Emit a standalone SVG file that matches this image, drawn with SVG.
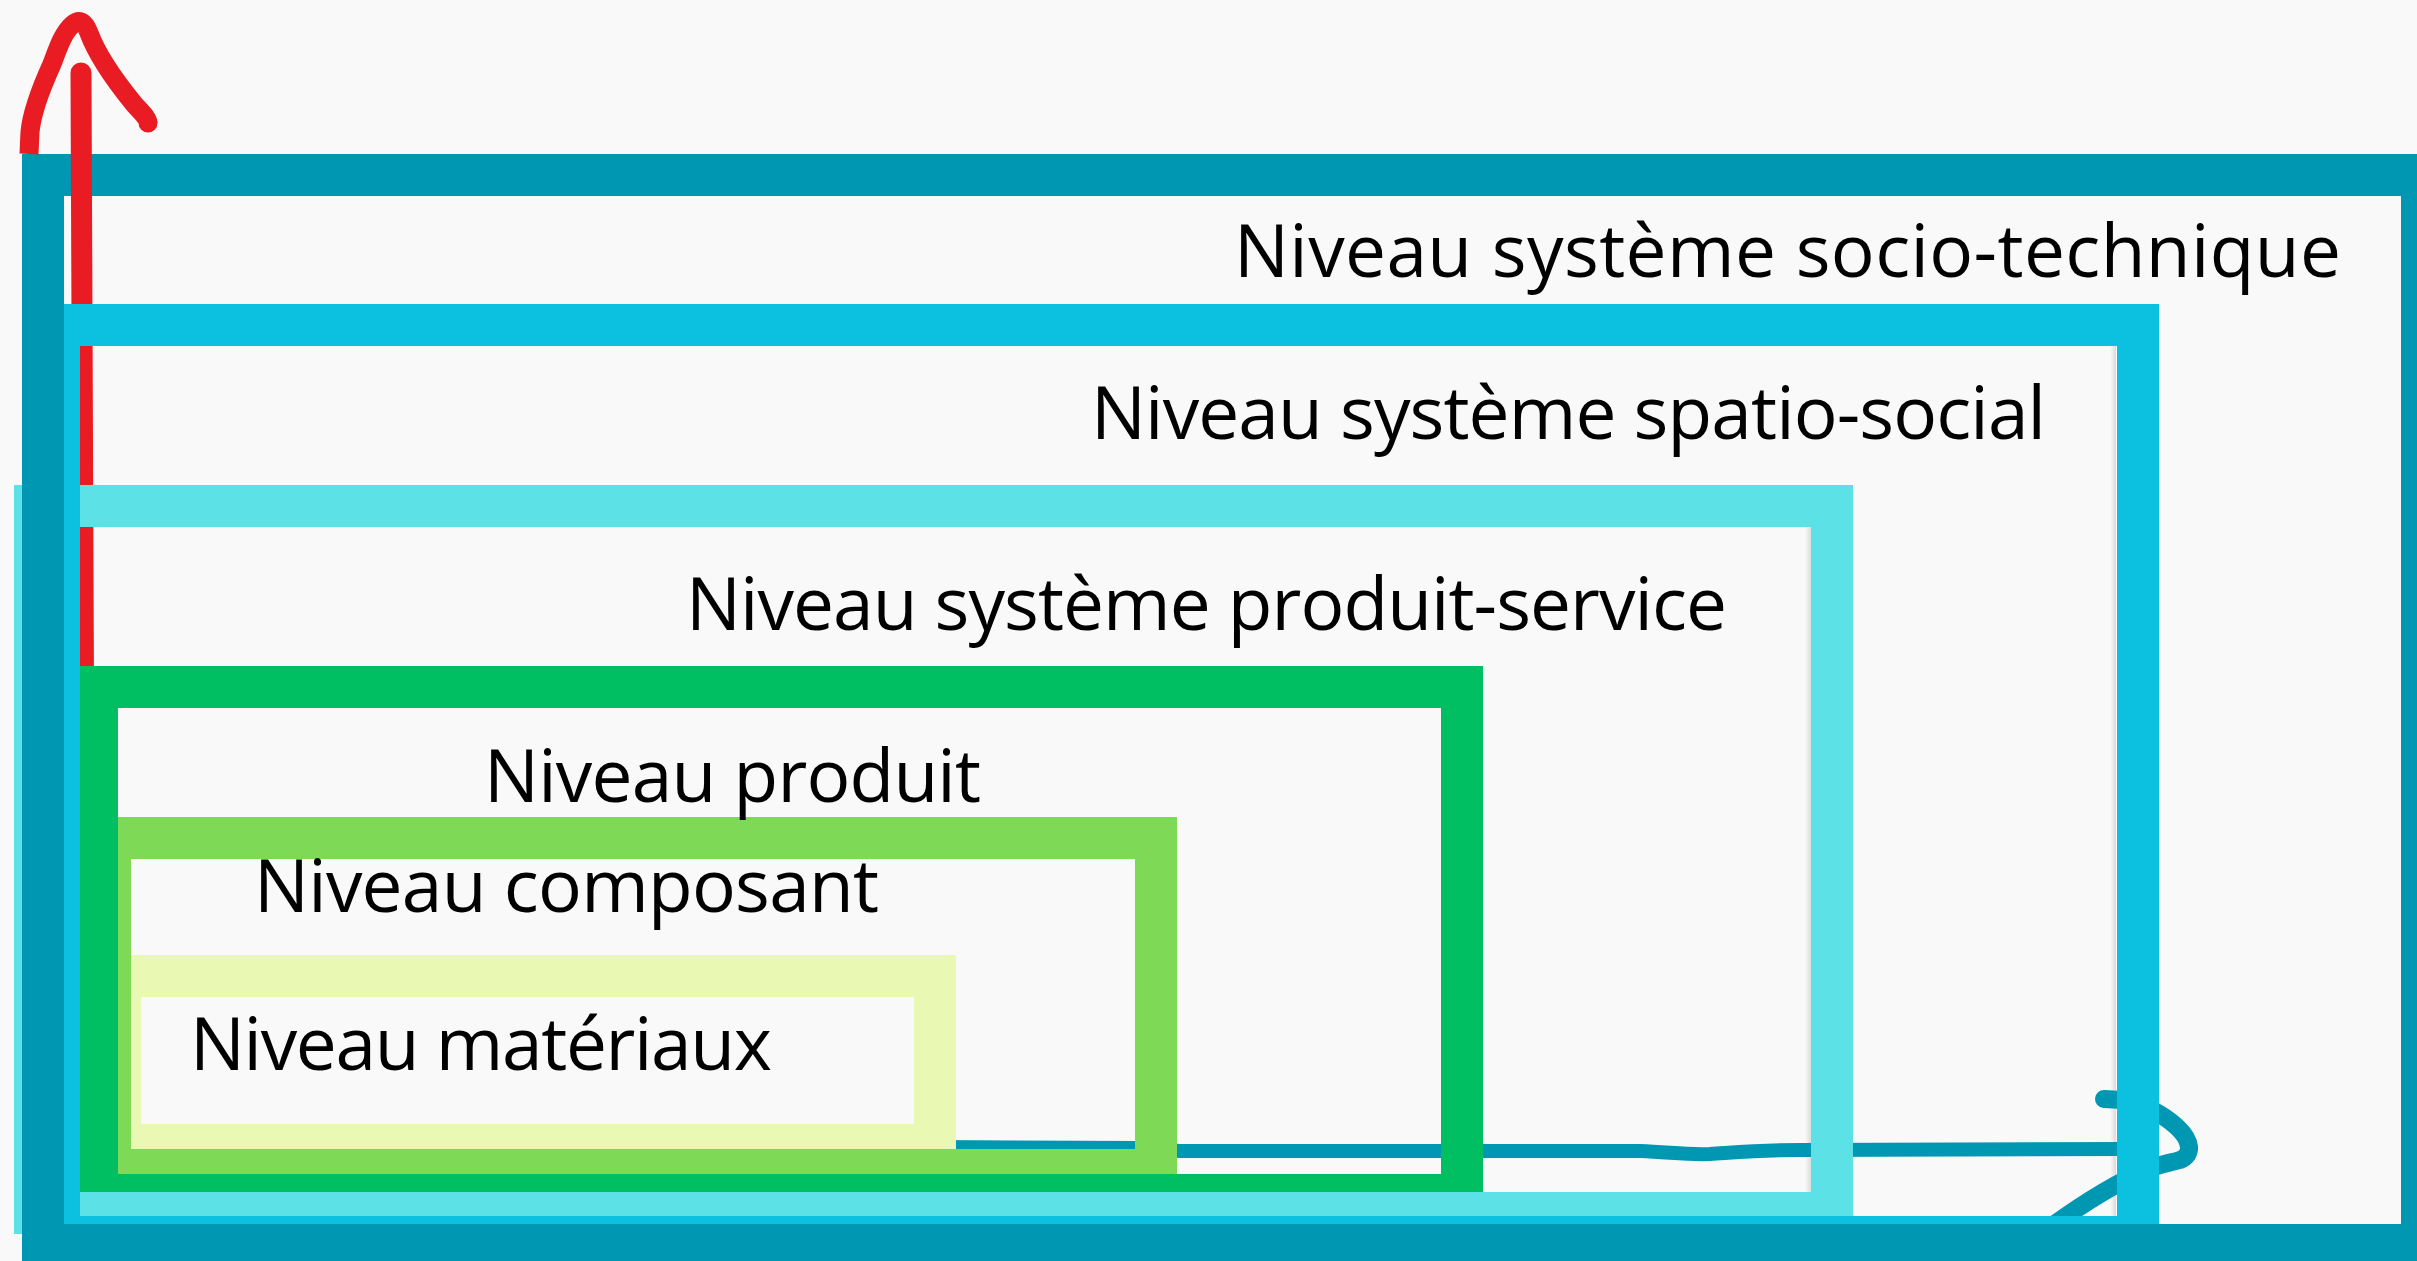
<svg xmlns="http://www.w3.org/2000/svg" width="2417" height="1261" viewBox="0 0 2417 1261">
  <style>
    .band { fill: none; stroke-width: 42; }
    .label { font-family: "Open Sans", "Noto Sans", "Liberation Sans", sans-serif; font-size: 73px; fill: #000; }
    .pen { fill: none; stroke-linejoin: round; }
  </style>
  <defs>
    <!-- frame outlines, stroke colour comes from the referencing <use> -->
    <rect id="f-materiaux" x="120" y="976" width="815" height="169"/>
    <rect id="f-composant" x="110" y="838" width="1046" height="332"/>
    <rect id="f-produit" x="97" y="687" width="1365" height="508"/>
    <rect id="f-pss" x="35" y="506" width="1797" height="707"/>
    <rect id="f-spatio" x="59" y="325" width="2079" height="912"/>
    <rect id="f-socio" x="43" y="175" width="2379" height="1070"/>

    <linearGradient id="edge-shadow" x1="0" y1="0" x2="1" y2="0">
      <stop offset="0" stop-color="#000" stop-opacity="0"/>
      <stop offset="1" stop-color="#000" stop-opacity="0.12"/>
    </linearGradient>

    <!-- hand-drawn strokes pass underneath the inner frames -->
    <mask id="under-frames" maskUnits="userSpaceOnUse" x="0" y="0" width="2417" height="1261">
      <rect width="2417" height="1261" fill="#fff"/>
      <g class="band" stroke="#000">
        <use href="#f-materiaux" class="band"/>
        <use href="#f-composant" class="band"/>
        <use href="#f-produit" class="band"/>
        <use href="#f-pss" class="band"/>
        <use href="#f-spatio" class="band"/>
      </g>
    </mask>
  </defs>

  <rect width="2417" height="1261" fill="#f9f9f9"/>

  <g id="niveau-materiaux">
    <use href="#f-materiaux" class="band" stroke="#e9f9b3"/>
    <text class="label" x="190" y="1070" textLength="582" lengthAdjust="spacing">Niveau matériaux</text>
  </g>

  <g id="niveau-composant">
    <use href="#f-composant" class="band" stroke="#7ed957"/>
    <text class="label" x="254" y="912" textLength="625" lengthAdjust="spacing">Niveau composant</text>
  </g>

  <g id="niveau-produit">
    <use href="#f-produit" class="band" stroke="#00bf63"/>
    <text class="label" x="484" y="802" textLength="497" lengthAdjust="spacing">Niveau produit</text>
  </g>

  <g id="niveau-produit-service">
    <use href="#f-pss" class="band" stroke="#5ce1e6"/>
    <rect x="1805" y="527" width="6" height="665" fill="url(#edge-shadow)"/>
    <text class="label" x="686" y="630" textLength="1041" lengthAdjust="spacing">Niveau système produit-service</text>
  </g>

  <g id="niveau-spatio-social">
    <use href="#f-spatio" class="band" stroke="#0cc0df"/>
    <rect x="2110" y="346" width="6" height="870" fill="url(#edge-shadow)"/>
    <text class="label" x="1091" y="439" textLength="955" lengthAdjust="spacing">Niveau système spatio-social</text>
  </g>

  <g id="niveau-socio-technique">
    <use href="#f-socio" class="band" stroke="#0097b2"/>
    <text class="label" x="1234" y="277" textLength="1107" lengthAdjust="spacing">Niveau système socio-technique</text>
  </g>

  <g id="connectors" mask="url(#under-frames)">
    <!-- red upward arrow along the left side -->
    <g stroke="#e91c24" class="pen">
      <path d="M81,73 L83.5,690" stroke-width="21" stroke-linecap="round"/>
      <path d="M29,154 L30,132 C32,110 42,86 52,64 C58,48 63,33 72,25 C80,18 85,22 89,33 C96,52 112,77 134,104 C141,112 148,118 148,123" stroke-width="19" stroke-linecap="butt"/>
      <circle cx="148" cy="123" r="9.5" fill="#e91c24" stroke="none"/>
    </g>
    <!-- teal scribble along the bottom, looping back at the right -->
    <g stroke="#0097b2" class="pen" stroke-linecap="round">
      <path d="M930,1147 L1140,1148 L1180,1151 L1640,1151 C1670,1152 1685,1155 1710,1154 C1740,1152 1760,1150 1800,1150 L2125,1149" stroke-width="14"/>
      <path d="M2104,1099 L2122,1100 C2142,1103 2163,1114 2177,1127 C2192,1141 2193,1155 2180,1160 C2170,1163 2160,1164 2148,1169 C2118,1182 2088,1200 2052,1226" stroke-width="18"/>
    </g>
  </g>
</svg>
